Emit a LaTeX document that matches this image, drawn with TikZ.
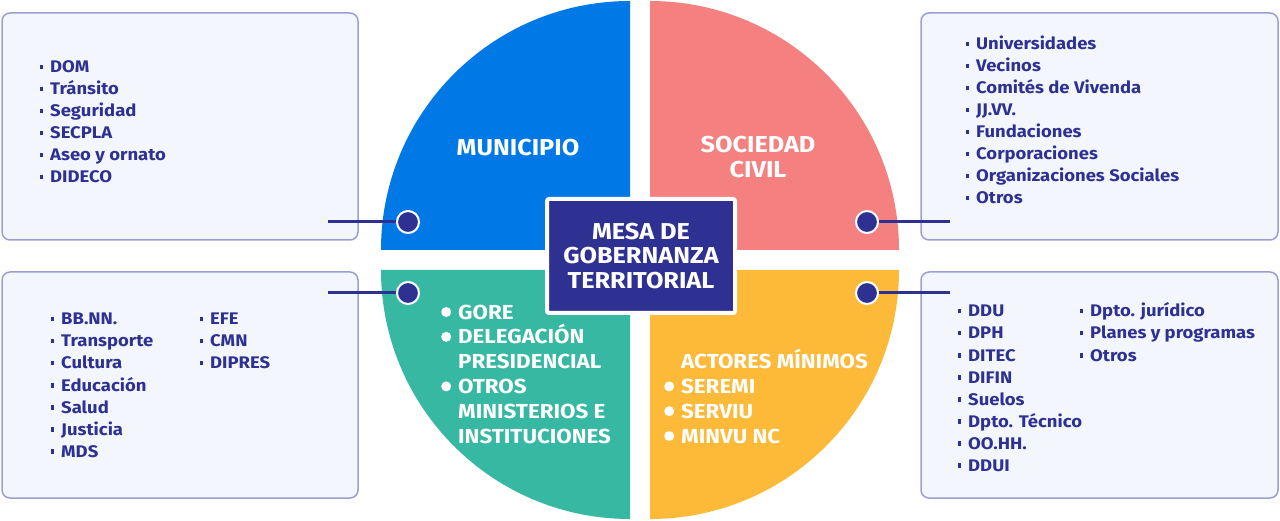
\documentclass[tikz,border=0pt]{standalone}
\usepackage{fontspec}
\setmainfont{Fira Sans}[FakeStretch=1.1]
\usepackage{tikz}
\usetikzlibrary{positioning}

\definecolor{mNavy}{RGB}{46,49,146}
\definecolor{mBlue}{RGB}{0,120,230}
\definecolor{mRed}{RGB}{244,128,128}
\definecolor{mGreen}{RGB}{55,184,162}
\definecolor{mYellow}{RGB}{253,186,56}
\definecolor{mPaper}{RGB}{243,247,253}
\definecolor{mFrame}{RGB}{156,158,212}

\newcommand{\sqb}{\makebox[10pt][l]{\rule[3.5pt]{2.5pt}{4.5pt}}}
\newcommand{\wdot}{\makebox[17pt][l]{\tikz[baseline=-7pt]\fill[white] (6pt,0pt) circle (5pt);}}
\newcommand{\nodot}{\makebox[17pt][l]{}}

\tikzset{
  infobox/.style={draw=mFrame, line width=1.5pt, fill=mPaper, rounded corners=8pt},
  item/.style={anchor=base west, inner sep=0pt, text=mNavy, font=\fontsize{16.8}{22}\selectfont\bfseries},
  title/.style={text=white, align=center, font=\fontsize{23}{24.5}\selectfont\bfseries},
  wlist/.style={anchor=base west, inner sep=0pt, text=white, align=left, font=\fontsize{20.3}{24.8}\selectfont\bfseries},
  hub/.style={circle, fill=mNavy, draw=white, line width=2pt, minimum size=22pt, inner sep=0pt},
  link/.style={mNavy, line width=3pt}
}

\begin{document}
\begin{tikzpicture}[x=1pt, y=-1pt]
    \useasboundingbox (0,0) rectangle (1280,521);

    % quadrants
    \fill[mBlue] (630,250) -- (381,250) arc[start angle=180, end angle=270, radius=249] -- cycle;
    \fill[mRed] (650,250) -- (650,1) arc[start angle=270, end angle=360, radius=249] -- cycle;
    \fill[mGreen] (630,270) -- (381,270) arc[start angle=180, end angle=90, radius=249] -- cycle;
    \fill[mYellow] (650,270) -- (650,519) arc[start angle=90, end angle=0, radius=249] -- cycle;

    % info boxes
    \node[infobox, minimum width=356pt, minimum height=227pt] (munbox) at (180,126.5) {};
    \node[infobox, minimum width=357pt, minimum height=227pt] (socbox) at (1099.5,126.5) {};
    \node[infobox, minimum width=356pt, minimum height=226pt] (gorebox) at (180,385) {};
    \node[infobox, minimum width=357pt, minimum height=226pt] (minvubox) at (1099.5,385) {};

    % centre
    \node[fill=mNavy, draw=white, line width=4pt, rounded corners=2pt,
          minimum width=188pt, minimum height=114pt] (mesa) at (641,256) {};
    \node[title] (mesatext) at (mesa) {MESA DE\\GOBERNANZA\\TERRITORIAL};

    \node[title] (municipio) at (518,148) {MUNICIPIO};
    \node[title] (sociedad) at (758,157) {SOCIEDAD\\CIVIL};

    % last line sits on the anchor
    \node[wlist] (gore) at (441,443) {\wdot GORE\\\wdot DELEGACIÓN\\\nodot PRESIDENCIAL\\\wdot OTROS\\\nodot MINISTERIOS E\\\nodot INSTITUCIONES};
    \node[wlist] (actores) at (664,443) {\nodot ACTORES MÍNIMOS\\\wdot SEREMI\\\wdot SERVIU\\\wdot MINVU NC};

    % lists
    \foreach \t [count=\i] in {DOM, Tránsito, Seguridad, SECPLA, Aseo y ornato, DIDECO}
      \node[item] (mun\i) at (40,{73+22*(\i-1)}) {\sqb\t};
    \foreach \t [count=\i] in {Universidades, Vecinos, Comités de Vivenda, JJ.VV., Fundaciones, Corporaciones, Organizaciones Sociales, Otros}
      \node[item] (soc\i) at (966,{50+22*(\i-1)}) {\sqb\t};
    \foreach \t [count=\i] in {BB.NN., Transporte, Cultura, Educación, Salud, Justicia, MDS}
      \node[item] (gob\i) at (51,{325+22*(\i-1)}) {\sqb\t};
    \foreach \t [count=\i] in {EFE, CMN, DIPRES}
      \node[item] (inst\i) at (200,{325+22*(\i-1)}) {\sqb\t};
    \foreach \t [count=\i] in {DDU, DPH, DITEC, DIFIN, Suelos, Dpto. Técnico, OO.HH., DDUI}
      \node[item] (dir\i) at (958,{317+22*(\i-1)}) {\sqb\t};
    \foreach \t [count=\i] in {Dpto. jurídico, Planes y programas, Otros}
      \node[item] (dpto\i) at (1080,{317+22*(\i-1)}) {\sqb\t};

    % connectors
    \coordinate (munend) at (328,222);
    \coordinate (socend) at (950,222);
    \coordinate (goreend) at (328,293);
    \coordinate (minvuend) at (950,293);
    \node[hub] (munhub) at (408,222) {};
    \node[hub] (sochub) at (867,222) {};
    \node[hub] (gorehub) at (408,293) {};
    \node[hub] (minvuhub) at (867,293) {};
    \draw[link] (munend) -- (munhub);
    \draw[link] (socend) -- (sochub);
    \draw[link] (goreend) -- (gorehub);
    \draw[link] (minvuend) -- (minvuhub);
  \end{tikzpicture}
\end{document}
